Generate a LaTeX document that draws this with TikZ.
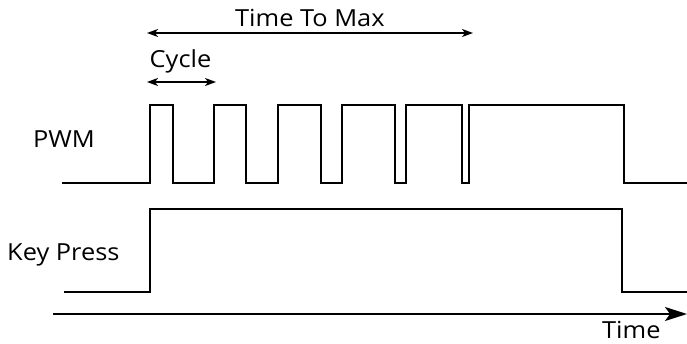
\documentclass[tikz,border=0pt]{standalone}
\usepackage{fontspec}
\setmainfont{Open Sans}
\usetikzlibrary{arrows.meta}
\tikzset{
  signal/.style={line width=1.8pt, line join=miter},
  dimtip/.tip={Stealth[length=11pt,width=8pt,inset=3pt]},
  dimarrow/.style={line width=1.6pt, dimtip-dimtip},
  axisarrow/.style={line width=1.8pt, -{Stealth[length=22pt,width=14pt,inset=5pt]}},
  lbl/.style={inner sep=0pt, anchor=base west, font=\fontsize{23.5}{28}\selectfont},
}
\newcommand{\wide}[1]{\scalebox{1.08}[1]{#1}}
\begin{document}
\begin{tikzpicture}[x=1pt,y=-1pt]
\useasboundingbox (0,0) rectangle (687,344);

% labels
\node[lbl] (pwmlbl) at (33,148) {\wide{PWM}};
\node[lbl] (keylbl) at (7,261) {\wide{Key Press}};
\node[lbl] (cyclbl) at (149.5,68) {\wide{Cycle}};
\node[lbl] (maxlbl) at (235,27) {\wide{Time To Max}};
\node[lbl] (timelbl) at (602,338) {\wide{Time}};

% dimension arrows
\coordinate (maxA) at (147,33);
\coordinate (maxB) at (473,33);
\draw[dimarrow] (maxA) -- (maxB);
\coordinate (cycA) at (147,82);
\coordinate (cycB) at (216,82);
\draw[dimarrow] (cycA) -- (cycB);

% PWM waveform
\draw[signal] (62,183) -- (150,183) -- (150,105) -- (173,105) -- (173,183)
  -- (214,183) -- (214,105) -- (246,105) -- (246,183)
  -- (278,183) -- (278,105) -- (321,105) -- (321,183)
  -- (342,183) -- (342,105) -- (395,105) -- (395,183)
  -- (406,183) -- (406,105) -- (462,105) -- (462,183)
  -- (469,183) -- (469,105) -- (624,105) -- (624,183) -- (687,183);

% key press waveform
\draw[signal] (64,292) -- (150,292) -- (150,209) -- (622,209) -- (622,292) -- (687,292);

% time axis
\coordinate (axA) at (53,314);
\coordinate (axB) at (687,314);
\draw[axisarrow] (axA) -- (axB);
\end{tikzpicture}
\end{document}
